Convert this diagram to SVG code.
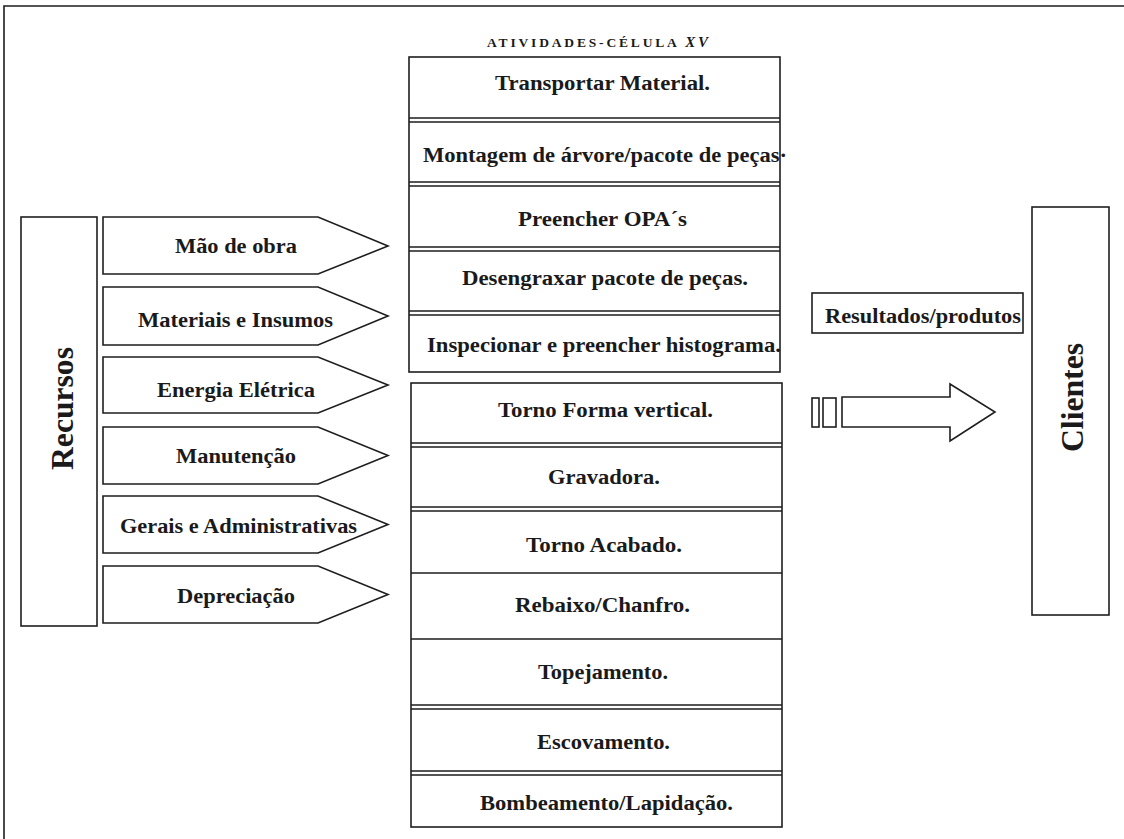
<svg xmlns="http://www.w3.org/2000/svg" width="1124" height="839" viewBox="0 0 1124 839">
<style>
.ln{fill:none;stroke:#1e1e1e;stroke-width:1.6}
.bx{fill:#fff;stroke:#1e1e1e;stroke-width:1.6}
.t{font-family:"Liberation Serif","Times New Roman",serif;font-weight:bold;font-size:20px;fill:#1a1a1a}
.h{font-family:"Liberation Serif","Times New Roman",serif;font-weight:bold;font-size:13.5px;fill:#1a1a1a}
.big{font-family:"Liberation Serif","Times New Roman",serif;font-weight:bold;font-size:32px;fill:#1a1a1a}
</style>
<rect width="1124" height="839" fill="#fff"/>
<g id="frame">
<path class="ln" d="M4,839 V6 H1124" stroke-width="2"/>
</g>
<g id="heading">
<text class="h" x="487" y="47" textLength="221" lengthAdjust="spacing">ATIVIDADES-CÉLULA <tspan font-style="italic" font-size="15">XV</tspan></text>
</g>
<g id="recursos">
<rect class="bx" x="21" y="217" width="76" height="409"/>
<text class="big" transform="translate(73,408.5) rotate(-90)" text-anchor="middle" textLength="123" lengthAdjust="spacingAndGlyphs">Recursos</text>
</g>
<g id="input-mao-de-obra">
<polygon class="bx" points="103,217 318,217 388,246 318,274 103,274"/>
<text class="t" x="175" y="253" textLength="122" lengthAdjust="spacingAndGlyphs">Mão de obra</text>
</g>
<g id="input-materiais">
<polygon class="bx" points="103,287 318,287 388,316 318,345 103,345"/>
<text class="t" x="138" y="327" textLength="195" lengthAdjust="spacingAndGlyphs">Materiais e Insumos</text>
</g>
<g id="input-energia">
<polygon class="bx" points="103,357 318,357 388,385 318,413 103,413"/>
<text class="t" x="157" y="397" textLength="158" lengthAdjust="spacingAndGlyphs">Energia Elétrica</text>
</g>
<g id="input-manutencao">
<polygon class="bx" points="103,427 318,427 388,455.5 318,484 103,484"/>
<text class="t" x="176" y="463" textLength="120" lengthAdjust="spacingAndGlyphs">Manutenção</text>
</g>
<g id="input-gerais">
<polygon class="bx" points="103,496 318,496 388,524.5 318,553 103,553"/>
<text class="t" x="120" y="533" textLength="237" lengthAdjust="spacingAndGlyphs">Gerais e Administrativas</text>
</g>
<g id="input-depreciacao">
<polygon class="bx" points="103,566 318,566 388,594.5 318,623 103,623"/>
<text class="t" x="177" y="603" textLength="118" lengthAdjust="spacingAndGlyphs">Depreciação</text>
</g>
<g id="atividades-grupo1">
<rect class="bx" x="409" y="57" width="371" height="315"/>
<path class="ln" d="M409,118 H780 M409,122 H780 M409,182 H780 M409,186 H780 M409,247 H780 M409,251 H780 M409,311 H780 M409,315 H780"/>
<text class="t" x="495" y="90" textLength="215" lengthAdjust="spacingAndGlyphs">Transportar Material.</text>
<text class="t" x="423" y="162" textLength="364" lengthAdjust="spacingAndGlyphs">Montagem de árvore/pacote de peças·</text>
<text class="t" x="518" y="226" textLength="169" lengthAdjust="spacingAndGlyphs">Preencher OPA´s</text>
<text class="t" x="462" y="285" textLength="286" lengthAdjust="spacingAndGlyphs">Desengraxar pacote de peças.</text>
<text class="t" x="427" y="352" textLength="354" lengthAdjust="spacingAndGlyphs">Inspecionar e preencher histograma.</text>
</g>
<g id="atividades-grupo2">
<rect class="bx" x="411" y="383" width="371" height="444"/>
<path class="ln" d="M411,443 H782 M411,447 H782 M411,507 H782 M411,511 H782 M411,573 H782 M411,639 H782 M411,705 H782 M411,709 H782 M411,771 H782 M411,775 H782"/>
<text class="t" x="498" y="417" textLength="215" lengthAdjust="spacingAndGlyphs">Torno Forma vertical.</text>
<text class="t" x="548" y="484" textLength="112" lengthAdjust="spacingAndGlyphs">Gravadora.</text>
<text class="t" x="526" y="552" textLength="156" lengthAdjust="spacingAndGlyphs">Torno Acabado.</text>
<text class="t" x="515" y="612" textLength="175" lengthAdjust="spacingAndGlyphs">Rebaixo/Chanfro.</text>
<text class="t" x="538" y="679" textLength="130" lengthAdjust="spacingAndGlyphs">Topejamento.</text>
<text class="t" x="537" y="749" textLength="133" lengthAdjust="spacingAndGlyphs">Escovamento.</text>
<text class="t" x="480" y="810" textLength="253" lengthAdjust="spacingAndGlyphs">Bombeamento/Lapidação.</text>
</g>
<g id="resultados">
<rect class="bx" x="812" y="293" width="211" height="40"/>
<text class="t" x="825" y="323" textLength="196" lengthAdjust="spacingAndGlyphs">Resultados/produtos</text>
</g>
<g id="clientes">
<rect class="bx" x="1032" y="207" width="77" height="408"/>
<text class="big" transform="translate(1083,397.5) rotate(-90)" text-anchor="middle" textLength="109" lengthAdjust="spacingAndGlyphs">Clientes</text>
</g>
<g id="connectors">
<rect class="bx" x="812" y="398" width="7" height="29"/>
<rect class="bx" x="823" y="398" width="13" height="29"/>
<polygon class="bx" points="842,397 950,397 950,384 995,412 950,441 950,427 842,427"/>
</g>
</svg>
